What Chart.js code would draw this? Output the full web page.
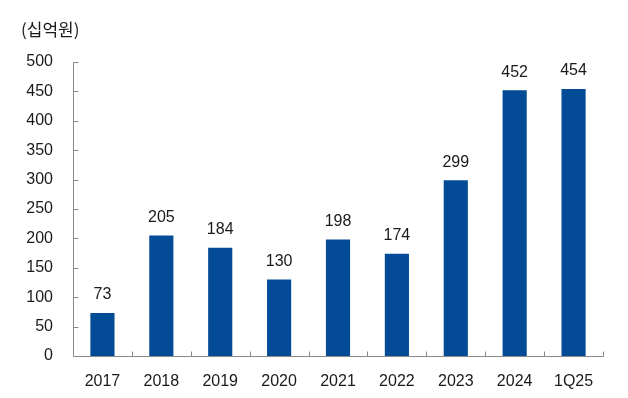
<!DOCTYPE html>
<html><head><meta charset="utf-8">
<script src="https://cdn.jsdelivr.net/npm/chart.js@4"></script>
<style>html,body{margin:0;padding:0;background:#fff;}#wrap{position:relative;width:628px;height:398px;}</style>
</head><body><div id="wrap"><canvas id="c" width="628" height="398"></canvas></div>
<script>
const categories = ['2017','2018','2019','2020','2021','2022','2023','2024','1Q25'];
const values = [73, 205, 184, 130, 198, 174, 299, 452, 454];
const yTicks = [0, 50, 100, 150, 200, 250, 300, 350, 400, 450, 500];
const unitLabel = '(십억원)';

const FONT = "'Liberation Sans', Arial, sans-serif";
const KFONT = "'Noto Sans CJK KR', 'Liberation Sans', sans-serif";
const TXT = '#1a1a1a';
const AXIS = '#888';

const customAxes = {
  id: 'customAxes',
  afterDraw(chart) {
    const ctx = chart.ctx, a = chart.chartArea;
    const x = chart.scales.x, y = chart.scales.y;
    ctx.save();
    ctx.strokeStyle = AXIS; ctx.lineWidth = 1;
    ctx.beginPath();
    const lx = Math.round(a.left) + 0.5, by = Math.round(a.bottom) + 0.5;
    ctx.moveTo(lx, Math.round(y.getPixelForValue(500)) + 0.5); ctx.lineTo(lx, by);
    ctx.lineTo(Math.round(a.right) + 0.5, by);
    yTicks.forEach(v => { const py = Math.round(y.getPixelForValue(v)) + 0.5; ctx.moveTo(lx, py); ctx.lineTo(lx + 5, py); });
    const step = x.getPixelForValue(1) - x.getPixelForValue(0);
    for (let i = 0; i < categories.length; i++) {
      const px = Math.round(x.getPixelForValue(i) + step / 2) + 0.5;
      ctx.moveTo(px, by); ctx.lineTo(px, by - 5);
    }
    ctx.stroke();
    // data labels
    ctx.fillStyle = TXT; ctx.font = '16px ' + FONT; ctx.textAlign = 'center'; ctx.textBaseline = 'bottom';
    chart.getDatasetMeta(0).data.forEach((bar, i) => { ctx.fillText(String(values[i]), bar.x, bar.y - 10); });
    // unit label
    ctx.textAlign = 'left'; ctx.textBaseline = 'middle'; ctx.font = '17px ' + KFONT;
    ctx.fillText(unitLabel, 21, 30);
    ctx.restore();
  }
};

new Chart(document.getElementById('c'), {
  type: 'bar',
  data: { labels: categories, datasets: [{ data: values, backgroundColor: '#034b97', borderWidth: 0, barPercentage: 0.41, categoryPercentage: 1 }] },
  options: {
    responsive: false, animation: false,
    layout: { padding: { left: 0, right: 25, top: 62, bottom: 0 } },
    plugins: { legend: { display: false }, tooltip: { enabled: false } },
    scales: {
      x: {
        afterFit(s) { s.height = 42; },
        grid: { display: false }, border: { display: false },
        ticks: { color: TXT, font: { family: FONT, size: 16 }, padding: 8, maxRotation: 0 }
      },
      y: {
        min: 0, max: 500,
        afterFit(s) { s.width = 73; },
        afterBuildTicks(s) { s.ticks = yTicks.map(v => ({ value: v })); },
        grid: { display: false }, border: { display: false },
        ticks: { color: TXT, font: { family: FONT, size: 16 }, padding: 12 }
      }
    }
  },
  plugins: [customAxes]
});
</script></body></html>
